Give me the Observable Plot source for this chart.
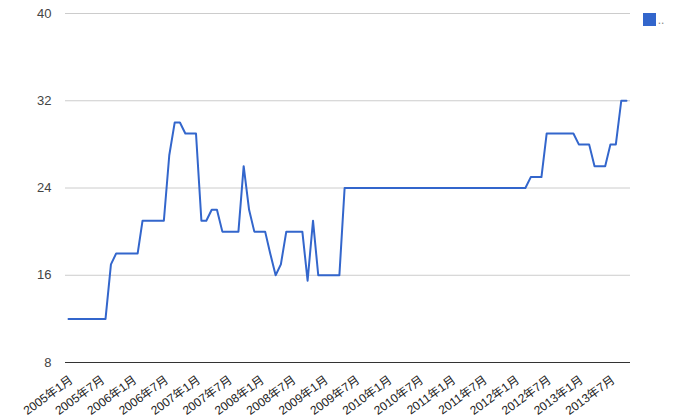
<!DOCTYPE html>
<html>
<head>
<meta charset="utf-8">
<script src="https://cdn.jsdelivr.net/npm/d3@7"></script>
<script src="https://cdn.jsdelivr.net/npm/@observablehq/plot@0.6"></script>
<style>
  html, body { margin: 0; padding: 0; background: #fff; }
  #chart { position: relative; width: 681px; height: 420px; }
</style>
</head>
<body>
<div id="chart"></div>
<script>
// Price series (break points of the line, month -> value)
const months = ["2005-01","2005-08","2005-09","2005-10","2006-02","2006-03","2006-07","2006-08","2006-09","2006-10",
  "2006-11","2007-01","2007-02","2007-03","2007-04","2007-05","2007-06","2007-09","2007-10","2007-11",
  "2007-12","2008-02","2008-03","2008-04","2008-05","2008-06","2008-09","2008-10","2008-11","2008-12",
  "2009-04","2009-05","2012-03","2012-04","2012-06","2012-07","2012-12","2013-01","2013-03","2013-04",
  "2013-06","2013-07","2013-08","2013-09","2013-10"];
const values = [12,12,17,18,18,21,21,27,30,30,
  29,29,21,21,22,22,20,20,26,22,
  20,20,18,16,17,20,20,15.5,21,16,
  16,24,24,25,25,29,29,28,28,26,
  26,28,28,32,32];
const tickMonths = ["2005-01","2005-07","2006-01","2006-07","2007-01","2007-07","2008-01","2008-07","2009-01",
  "2009-07","2010-01","2010-07","2011-01","2011-07","2012-01","2012-07","2013-01","2013-07"];
const yTicks = [8, 16, 24, 32, 40];
const seriesName = "..";

const parse = d3.utcParse("%Y-%m");
const data = months.map((m, i) => ({date: parse(m), value: values[i]}));
const fmt = d => `${d.getUTCFullYear()}年${d.getUTCMonth() + 1}月`;

const font = '"Liberation Sans", Arial, "Noto Sans CJK SC", sans-serif';

const svg = Plot.plot({
  width: 681,
  height: 420,
  marginTop: 13,
  marginBottom: 58,
  marginLeft: 65,
  marginRight: 51,
  style: {fontFamily: font, fontSize: "12px", color: "#222", background: "#fff"},
  x: {type: "utc", domain: [parse(months[0]), parse(months[months.length - 1])], insetLeft: 3, insetRight: 4},
  y: {domain: [8, 40]},
  marks: [
    Plot.gridY(yTicks, {stroke: "#cccccc", strokeOpacity: 1}),
    Plot.ruleY([8], {stroke: "#333333", strokeWidth: 1}),
    Plot.axisY({ticks: yTicks, tickSize: 0, tickPadding: 14, fontSize: 13, fill: "#444", label: null}),
    Plot.axisX({ticks: tickMonths.map(parse), tickFormat: fmt, tickRotate: -36, tickSize: 0, tickPadding: 16, dx: 3, fontSize: 12, fill: "#222", label: null}),
    Plot.line(data, {x: "date", y: "value", stroke: "#3366cc", strokeWidth: 2, strokeLinejoin: "round"})
  ]
});

// legend
const s = d3.select(svg);
const lg = s.append("g").attr("font-family", font);
lg.append("rect").attr("x", 643).attr("y", 13).attr("width", 13).attr("height", 13).attr("fill", "#3366cc");
lg.append("text").attr("x", 661).attr("y", 24).attr("font-size", 12).attr("fill", "#888").text(seriesName);

document.getElementById("chart").appendChild(svg);
</script>
</body>
</html>
